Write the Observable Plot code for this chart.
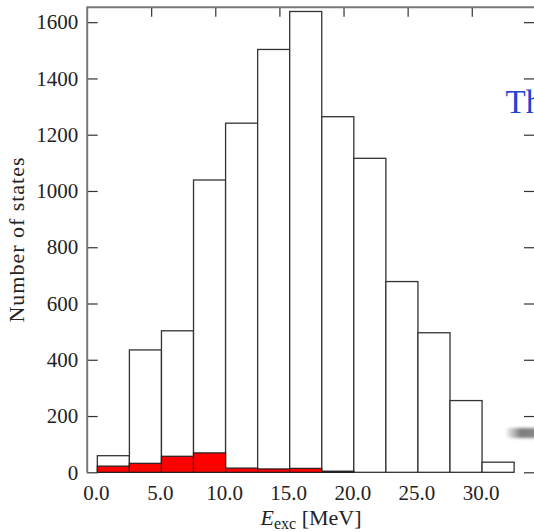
<!DOCTYPE html>
<html>
<head>
<meta charset="utf-8">
<script src="https://cdn.jsdelivr.net/npm/d3@7"></script>
<script src="https://cdn.jsdelivr.net/npm/@observablehq/plot@0.6"></script>
<style>
  html, body { margin: 0; padding: 0; background: white; }
  #wrap { position: relative; width: 534px; height: 532px; overflow: hidden; }
  #wrap svg text, #wrap svg tspan { font-family: "Liberation Serif", serif !important; }
  #shadow { position: absolute; left: 505px; top: 428px; width: 40px; height: 10px;
    border-radius: 5px 0 0 5px;
    background: linear-gradient(to right, rgba(120,120,120,0), rgba(110,110,110,0.9) 40%, rgba(130,130,130,0.9));
    filter: blur(1.5px); }
</style>
</head>
<body>
<div id="wrap"></div>
<script>
// ---- data ----
const binStarts = [0, 2.5, 5, 7.5, 10, 12.5, 15, 17.5, 20, 22.5, 25, 27.5, 30];
const binWidth = 2.5;
const allStates = [59, 435, 503, 1039, 1241, 1503, 1638, 1264, 1116, 678, 496, 255, 36];
const redStates = [22, 32, 57, 69, 15, 12, 14, 4, 0, 0, 0, 0, 0];
const yTicks = [0, 200, 400, 600, 800, 1000, 1200, 1400, 1600];
const xTicks = [0, 5, 10, 15, 20, 25, 30];
const topTicks = [5, 10, 15, 20, 25, 30];
const yLabel = "Number of states";
const sideText = "Th";

// ---- layout ----
const W = 534, H = 532;
const mL = 86.7, mT = 6.7, mB = 59.7, mR = 0;
const xDomain = [-0.83, 34.05];
const yDomain = [0, 1655];
const innerW = W - mL - mR, innerH = H - mT - mB;

const bars = binStarts.map((s, i) => ({x1: s, x2: s + binWidth, all: allStates[i], red: redStates[i]}));

const chart = Plot.plot({
  width: W, height: H,
  marginLeft: mL, marginTop: mT, marginBottom: mB, marginRight: mR,
  style: {fontFamily: "'Liberation Serif', serif", fontSize: "21px", color: "#222", background: "white", overflow: "visible"},
  x: {domain: xDomain},
  y: {domain: yDomain},
  marks: [
    Plot.rectY(bars, {x1: "x1", x2: "x2", y: "all", fill: "white", stroke: "#333", strokeWidth: 1.3}),
    Plot.rectY(bars.filter(d => d.red > 0), {x1: "x1", x2: "x2", y: "red", fill: "#ff0000", stroke: "#222", strokeWidth: 1.2}),
    Plot.tickY(yTicks, {y: d => d, insetRight: innerW - 11, stroke: "#333", strokeWidth: 1.2}),
    Plot.tickY(yTicks, {y: d => d, insetLeft: innerW - 10, stroke: "#333", strokeWidth: 1.2}),
    Plot.tickX(topTicks, {x: d => d, insetBottom: innerH - 10, dx: -10.3, stroke: "#333", strokeWidth: 1.2}),
    Plot.ruleY([yDomain[1]], {stroke: "#777", strokeWidth: 2}),
    Plot.ruleX([xDomain[0]], {stroke: "#777", strokeWidth: 2}),
    Plot.axisY(yTicks, {tickSize: 0, tickPadding: 9, tickFormat: d => String(d), label: null, fill: "#222"}),
    Plot.axisX(xTicks, {tickSize: 0, tickPadding: 12, tickFormat: d3.format(".1f"), label: null, dx: -1.5, fill: "#222"}),
    Plot.text([yLabel], {frameAnchor: "left", rotate: -90, dx: -70, textAnchor: "middle", lineAnchor: "middle", text: d => d, fill: "#222", fontSize: 22, className: "ylab"}),
    Plot.text([sideText], {frameAnchor: "top-right", dx: -29, dy: 82, textAnchor: "start", lineAnchor: "top", text: d => d, fill: "#1d45d2", fontSize: 33})
  ]
});

const svg = d3.select(chart);
// stretch the y label to the reference length
svg.selectAll(".ylab text").attr("textLength", 165).attr("lengthAdjust", "spacing");

// x-axis label with italic E and subscript "exc"
const xl = svg.append("text")
  .attr("x", 311)
  .attr("y", 525)
  .attr("text-anchor", "middle")
  .attr("font-size", 22)
  .attr("fill", "#222");
xl.append("tspan").attr("font-style", "italic").text("E");
xl.append("tspan").attr("font-size", 16).attr("dy", 4).text("exc");
xl.append("tspan").attr("dy", -4).text(" [MeV]");

document.getElementById("wrap").appendChild(chart);
const sh = document.createElement("div");
sh.id = "shadow";
document.getElementById("wrap").appendChild(sh);
</script>
</body>
</html>
